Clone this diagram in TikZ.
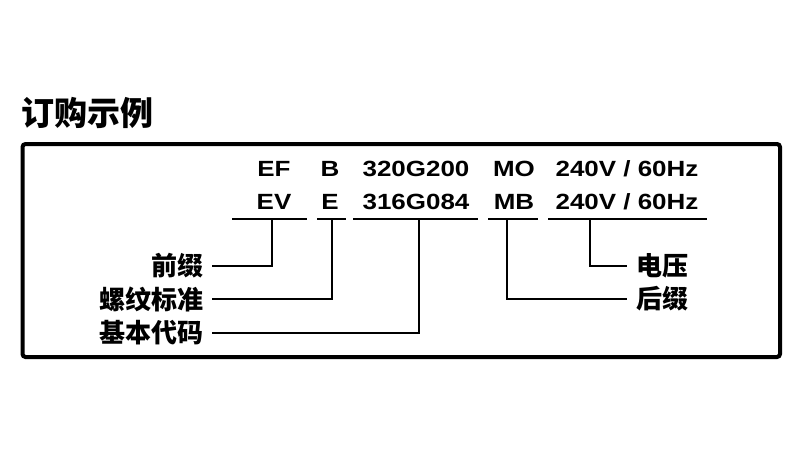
\documentclass[tikz,border=0pt]{standalone}
\usepackage{fontspec}
\setmainfont{Liberation Sans}
\newfontfamily\cjk{Noto Sans CJK SC}
\newfontfamily\codefont[FakeStretch=1.18]{Liberation Sans Bold}
\begin{document}
\begin{tikzpicture}[x=1pt,y=-1pt,
  code/.style={font=\codefont\fontsize{22}{22}\selectfont, inner sep=0pt, anchor=base},
  lbl/.style={font=\cjk\bfseries\fontsize{26}{26}\selectfont, inner sep=0pt, outer xsep=9pt},
  conn/.style={line width=2.2pt},
  frame/.style={line width=4pt, rounded corners=3pt}]
\useasboundingbox (0,0) rectangle (800,450);
% title
\node[font=\cjk\bfseries\fontsize{33}{33}\selectfont, anchor=west, inner sep=0pt] (title) at (21,113) {订购示例};
% frame
\draw[frame] (22.5,144) rectangle (780,357);
% row 1
\node[code] (ef)  at (274,176) {EF};
\node[code] (b)   at (330,176) {B};
\node[code] (c1)  at (416,176) {320G200};
\node[code] (mo)  at (514,176) {MO};
\node[code] (v1)  at (627,176) {240V / 60Hz};
% row 2
\node[code] (ev)  at (274,209) {EV};
\node[code] (e)   at (330,209) {E};
\node[code] (c2)  at (416,209) {316G084};
\node[code] (mb)  at (514,209) {MB};
\node[code] (v2)  at (627,209) {240V / 60Hz};
% underline segments
\coordinate (s1a) at (232,219); \coordinate (s1b) at (307,219); \coordinate (u1) at (272,219);
\coordinate (s2a) at (317,219); \coordinate (s2b) at (346,219); \coordinate (u2) at (332,219);
\coordinate (s3a) at (353,219); \coordinate (s3b) at (478,219); \coordinate (u3) at (419,219);
\coordinate (s4a) at (488,219); \coordinate (s4b) at (538,219); \coordinate (u4) at (507,219);
\coordinate (s5a) at (548,219); \coordinate (s5b) at (707,219); \coordinate (u5) at (590,219);
\draw[conn] (s1a) -- (s1b);
\draw[conn] (s2a) -- (s2b);
\draw[conn] (s3a) -- (s3b);
\draw[conn] (s4a) -- (s4b);
\draw[conn] (s5a) -- (s5b);
% labels
\node[lbl, anchor=east] (qz) at (212,266) {前缀};
\node[lbl, anchor=east] (lw) at (212,299) {螺纹标准};
\node[lbl, anchor=east] (jb) at (212,333) {基本代码};
\node[lbl, anchor=west] (dy) at (627,266) {电压};
\node[lbl, anchor=west] (hz) at (627,299) {后缀};
% connectors
\draw[conn] (u1) |- (qz.east);
\draw[conn] (u2) |- (lw.east);
\draw[conn] (u3) |- (jb.east);
\draw[conn] (u4) |- (hz.west);
\draw[conn] (u5) |- (dy.west);
\end{tikzpicture}
\end{document}
